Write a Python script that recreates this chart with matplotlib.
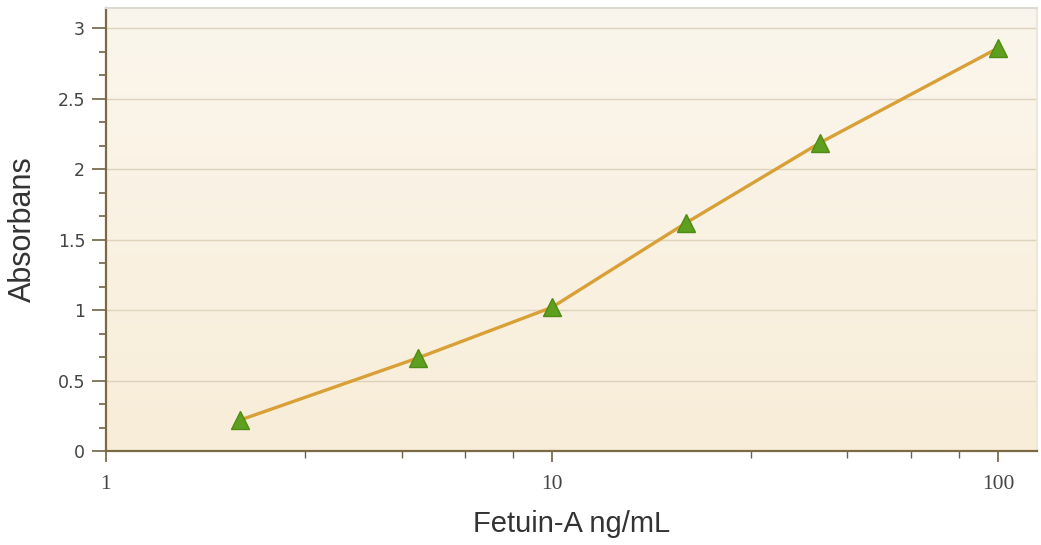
import numpy as np
import matplotlib.pyplot as plt
from matplotlib.ticker import FixedLocator, MultipleLocator, NullFormatter

# Standard curve data
conc = [2, 5, 10, 20, 40, 100]
absorbance = [0.22, 0.66, 1.02, 1.62, 2.19, 2.86]

x_major = [1, 10, 100]
x_major_labels = ['1', '10', '100']
x_minor = [2.8, 4.6, 6.4, 8.2, 28, 46, 64, 82]
y_major = [0, 0.5, 1, 1.5, 2, 2.5, 3]
y_major_labels = ['0', '0.5', '1', '1.5', '2', '2.5', '3']

fig = plt.figure(figsize=(10.41, 5.45), dpi=100)
ax = fig.add_axes([0.1018, 0.1725, 0.8944, 0.8128])

# cream gradient background
grad = np.linspace(0, 1, 256).reshape(-1, 1)
top = np.array([251, 246, 237]) / 255
bot = np.array([248, 237, 216]) / 255
img = top + (bot - top) * grad[:, :, None] * np.ones((1, 2, 1))
ax.imshow(img, extent=[0, 1, 0, 1], transform=ax.transAxes, aspect='auto', zorder=0)

ax.set_xscale('log')
ax.set_xlim(1, 122.4)
ax.set_ylim(0, 3.145)

for y in y_major[1:]:
    ax.axhline(y, color='#DDD2BC', lw=1.0, zorder=1)

ax.plot(conc, absorbance, color='#D9A038', lw=2.4, zorder=3, solid_capstyle='round')
ax.plot(conc, absorbance, ls='none', marker='^', ms=13, mfc='#5E9F1F', mec='#4F8C14',
        mew=1.0, zorder=4)

ax.xaxis.set_major_locator(FixedLocator(x_major))
ax.set_xticklabels(x_major_labels, family='Liberation Serif', fontsize=15.5, color='#444444')
ax.xaxis.set_minor_locator(FixedLocator(x_minor))
ax.xaxis.set_minor_formatter(NullFormatter())
ax.yaxis.set_major_locator(FixedLocator(y_major))
ax.set_yticklabels(y_major_labels, family='DejaVu Sans', fontsize=12.5, color='#444444')
ax.yaxis.set_minor_locator(MultipleLocator(1 / 6))

ax.tick_params(axis='y', which='major', length=10, width=1.2, color='#6E6244', pad=5)
ax.tick_params(axis='y', which='minor', length=5, width=1.2, color='#6E6244')
ax.tick_params(axis='x', which='major', length=8, width=1.2, color='#6E6244', pad=9)
ax.tick_params(axis='x', which='minor', length=5, width=1.0, color='#6E6244')

for s in ['left', 'bottom']:
    ax.spines[s].set_color('#7A6A45')
    ax.spines[s].set_linewidth(1.6)
ax.spines['top'].set_color('#DDDAD3')
ax.spines['top'].set_linewidth(1.5)
ax.spines['right'].set_color('#EEE6D6')
ax.spines['right'].set_linewidth(1.5)

ax.set_xlabel('Fetuin-A ng/mL', family='Liberation Sans', fontsize=21, color='#333333', labelpad=12)
ax.set_ylabel('Absorbans', family='Liberation Sans', fontsize=22, color='#333333', labelpad=14)

fig.savefig('out.png', dpi=100)
